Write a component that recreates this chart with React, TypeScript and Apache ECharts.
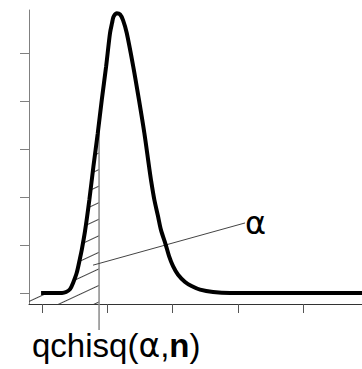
import React, { useEffect, useRef } from "react";
import * as echarts from "echarts";

// Density curve (x in axis units, y in tick units)
const curveX = [-0.15, 3.06, 3.68, 4.29, 4.75, 5.31, 5.82, 6.08, 6.58, 7.24, 7.86, 8.53, 9.14, 9.8, 10.41, 10.72, 10.92, 11.18, 11.44, 11.94, 12.4, 12.97, 13.98, 14.85, 15.67, 16.39, 16.69, 17.2, 17.76, 18.22, 18.91, 19.45, 20.06, 20.83, 21.9, 22.97, 24.2, 26.19, 28.79, 49.0];
const curveY = [0, 0, 0.02, 0.08, 0.21, 0.42, 0.73, 0.9, 1.29, 1.94, 2.63, 3.33, 4.02, 4.71, 5.42, 5.63, 5.75, 5.81, 5.83, 5.81, 5.69, 5.42, 4.71, 4.02, 3.33, 2.63, 2.35, 1.94, 1.6, 1.31, 1.02, 0.77, 0.56, 0.38, 0.23, 0.14, 0.07, 0.02, 0, 0];

const xTicks = [0, 10, 20, 30, 40];
const yTicks = [0, 1, 2, 3, 4, 5];
const xRange = [-2, 49];
const yRange = [-0.23, 5.9];

const quantileX = 8.73;
const quantileLineBottom = -0.77;
const pointerX = [7.81, 31.09];
const pointerY = [0.58, 1.46];
const alphaLabel = "α";
const quantileLabel = ["qchisq(", "α", ",", "n", ")"];

function interpCurve(x: number): number {
  for (let i = 0; i < curveX.length - 1; i++) {
    if (x >= curveX[i] && x <= curveX[i + 1]) {
      const t = (x - curveX[i]) / (curveX[i + 1] - curveX[i]);
      return curveY[i] + t * (curveY[i + 1] - curveY[i]);
    }
  }
  return 0;
}

export default function App() {
  const ref = useRef<HTMLDivElement>(null);
  useEffect(() => {
    if (!ref.current) return;
    const chart = echarts.init(ref.current, undefined, { renderer: "svg" });
    const curve = curveX.map((x, i) => [x, curveY[i]]);
    const qY = interpCurve(quantileX);
    const hatch: number[][] = [[xRange[0], 0]];
    curve.forEach((p) => {
      if (p[0] < quantileX) hatch.push(p);
    });
    hatch.push([quantileX, qY]);

    chart.setOption({
      animation: false,
      grid: { left: 29, right: 0, top: 10, bottom: 65 },
      xAxis: {
        type: "value",
        min: xRange[0],
        max: xRange[1],
        splitLine: { show: false },
        axisLine: { onZero: false, lineStyle: { color: "#333", width: 1 } },
        axisTick: { show: true, length: 9, customValues: xTicks, lineStyle: { color: "#555" } },
        axisLabel: { show: false },
      },
      yAxis: {
        type: "value",
        min: yRange[0],
        max: yRange[1],
        splitLine: { show: false },
        axisLine: { show: true, onZero: false, lineStyle: { color: "#808080", width: 1 } },
        axisTick: { show: true, length: 9, customValues: yTicks, lineStyle: { color: "#808080" } },
        axisLabel: { show: false },
      },
      series: [
        {
          type: "line",
          data: hatch,
          showSymbol: false,
          symbol: "none",
          lineStyle: { width: 0 },
          areaStyle: { origin: "start", color: "rgba(255,255,255,0)", opacity: 1 },
          itemStyle: {
            decal: {
              symbol: "rect",
              symbolSize: 1,
              color: "#444",
              dashArrayX: [1, 0],
              dashArrayY: [1, 14],
              rotation: -25 * Math.PI / 180,
            },
          },
          z: 1,
          silent: true,
        },
        {
          type: "line",
          data: [[quantileX, qY], [quantileX, quantileLineBottom]],
          showSymbol: false,
          symbol: "none",
          clip: false,
          lineStyle: { color: "#8a8a8a", width: 1.5 },
          z: 2,
        },
        {
          type: "line",
          data: pointerX.map((x, i) => [x, pointerY[i]]),
          showSymbol: false,
          symbol: "none",
          lineStyle: { color: "#444", width: 1 },
          endLabel: {
            show: true,
            formatter: alphaLabel,
            distance: 0,
            color: "#000",
            fontSize: 32,
            fontFamily: "DejaVu Sans",
          },
          z: 2,
        },
        {
          type: "line",
          data: curve,
          showSymbol: false,
          symbol: "none",
          smooth: 0.3,
          lineStyle: { color: "#000", width: 4 },
          z: 3,
        },
      ],
      graphic: [
        {
          type: "text",
          left: 32,
          top: 329,
          style: {
            text: `{a|${quantileLabel[0]}}{g|${quantileLabel[1]}}{a|${quantileLabel[2]}}{b|${quantileLabel[3]}}{a|${quantileLabel[4]}}`,
            rich: {
              a: { fontSize: 33, fontFamily: "Liberation Sans", fill: "#000" },
              g: { fontSize: 33, fontFamily: "DejaVu Sans", fill: "#000" },
              b: { fontSize: 33, fontFamily: "Liberation Sans", fontWeight: "bold", fill: "#000" },
            },
          },
        },
      ],
    });
    return () => chart.dispose();
  }, []);
  return (
    <div
      ref={ref}
      style={{ position: "fixed", left: 0, top: 0, width: 362, height: 369, background: "#fff" }}
    />
  );
}
